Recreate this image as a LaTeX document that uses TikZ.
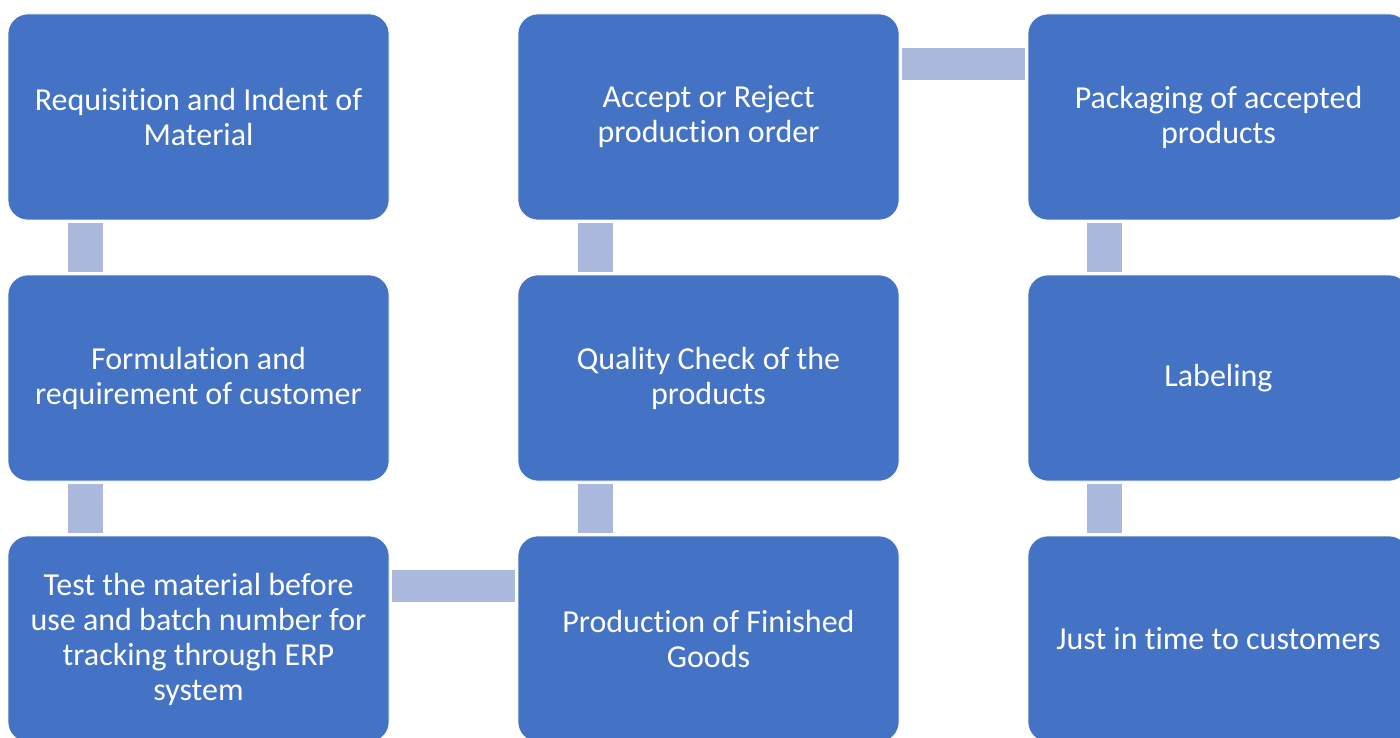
\documentclass[tikz,border=0pt]{standalone}
\usepackage{fontspec}
\setmainfont{Carlito}[Ligatures=NoCommon]
\usetikzlibrary{calc}
\definecolor{boxblue}{HTML}{4472C4}
\definecolor{barblue}{HTML}{ABB9DE}
\begin{document}
\begin{tikzpicture}[x=1pt,y=-1pt,
  stepbox/.style={draw=white,line width=0.6pt,fill=boxblue,rounded corners=20pt,
    minimum width=381pt,minimum height=206pt,inner sep=0pt,align=center,
    text=white,font=\fontsize{32}{35}\selectfont},
  bar/.style={fill=barblue}]
\useasboundingbox (0,0) rectangle (1400,738);
\node[stepbox] (a) at (198.5,117) {Requisition and Indent of\\Material};
\node[stepbox] (b) at (198.5,378) {Formulation and\\requirement of customer};
\node[stepbox] (c) at (198.5,639) {Test the material before\\use and batch number for\\tracking through ERP\\system};
\node[stepbox] (d) at (708.5,639) {Production of Finished\\Goods};
\node[stepbox] (e) at (708.5,378) {Quality Check of the\\products};
\node[stepbox] (f) at (708.5,117) {Accept or Reject\\production order};
\node[stepbox] (g) at (1218.5,117) {Packaging of accepted\\products};
\node[stepbox] (h) at (1218.5,378) {Labeling};
\node[stepbox] (i) at (1218.5,639) {Just in time to customers};
% vertical bars
\fill[bar] ($(a.south west)+(60,3)$) rectangle ($(b.north west)+(95,-3)$);
\fill[bar] ($(b.south west)+(60,3)$) rectangle ($(c.north west)+(95,-3)$);
\fill[bar] ($(d.north west)+(60,-3)$) rectangle ($(e.south west)+(95,3)$);
\fill[bar] ($(e.north west)+(60,-3)$) rectangle ($(f.south west)+(95,3)$);
\fill[bar] ($(g.south west)+(59,3)$) rectangle ($(h.north west)+(94,-3)$);
\fill[bar] ($(h.south west)+(59,3)$) rectangle ($(i.north west)+(94,-3)$);
% horizontal bars
\fill[bar] ($(c.north east)+(3,34)$) rectangle ($(d.north west)+(-3,66)$);
\fill[bar] ($(f.north east)+(3,34)$) rectangle ($(g.north west)+(-3,66)$);
\end{tikzpicture}
\end{document}
